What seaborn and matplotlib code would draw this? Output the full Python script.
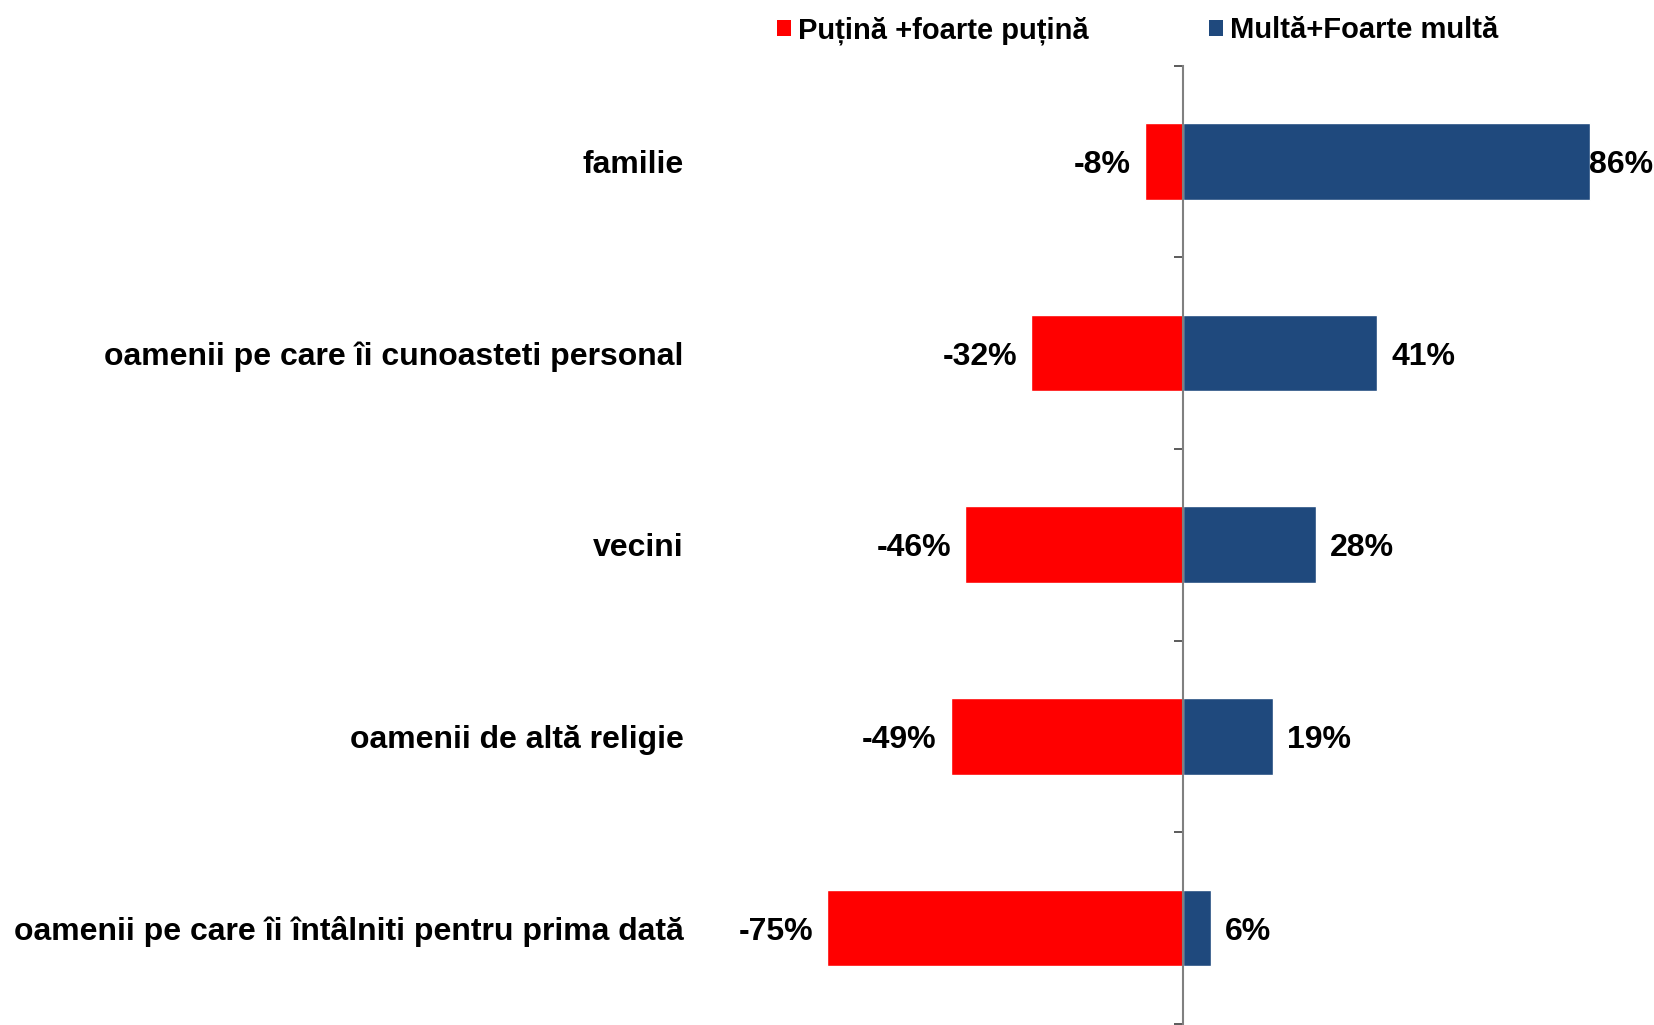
import numpy as np
import pandas as pd
import seaborn as sns
import matplotlib.pyplot as plt
from matplotlib.patches import Patch

# data
categories = ['familie',
              'oamenii pe care îi cunoasteti personal',
              'vecini',
              'oamenii de altă religie',
              'oamenii pe care îi întâlniti pentru prima dată']
putina = [-8, -32, -46, -49, -75]   # Puțină + foarte puțină
multa = [86, 41, 28, 19, 6]         # Multă + Foarte multă
series_names = ['Puțină +foarte puțină', 'Multă+Foarte multă']
colors = ['#FF0000', '#1F497D']

df = pd.DataFrame({'cat': categories, 'neg': putina, 'pos': multa})

sns.set_style('white')
plt.rcParams['font.family'] = ['Liberation Sans', 'DejaVu Sans']
plt.rcParams['font.weight'] = 'bold'
plt.rcParams['text.color'] = 'black'

fig = plt.figure(figsize=(16.54, 10.25), dpi=100)
ax = fig.add_axes([709 / 1654, 0.001, 945 / 1654, 0.935])

sns.barplot(data=df, x='neg', y='cat', color=colors[0], width=0.4,
            orient='h', ax=ax, saturation=1)
sns.barplot(data=df, x='pos', y='cat', color=colors[1], width=0.4,
            orient='h', ax=ax, saturation=1)

ax.set_xlim(-100, 99.4)
ax.set_ylim(len(categories) - 0.5, -0.5)
ax.set_xlabel('')
ax.set_ylabel('')
ax.set_xticks([])

# vertical axis through zero with ticks between the categories
for s in ['top', 'right', 'bottom']:
    ax.spines[s].set_visible(False)
ax.spines['left'].set_position(('data', 0))
ax.spines['left'].set_color('#808080')
ax.spines['left'].set_linewidth(1.5)
ax.spines['left'].set_zorder(5)
ax.set_yticks(np.arange(-0.5, len(categories), 1))
ax.set_yticklabels([])
ax.tick_params(axis='y', direction='out', length=6.5, width=1.2,
               color='#404040', left=True)

# category labels
for i, c in enumerate(categories):
    ax.text(-0.027, i, c, transform=ax.get_yaxis_transform(), ha='right',
            va='center_baseline', fontsize=23, fontweight='bold',
            color='black')

# value labels
for i, (n, p) in enumerate(zip(putina, multa)):
    ax.annotate(f'{n}%', (n, i), xytext=(-10, 0), textcoords='offset points',
                ha='right', va='center_baseline', fontsize=23,
                fontweight='bold', color='black')
    pad = -1 if p > 80 else 10
    ax.annotate(f'{p}%', (p, i), xytext=(pad, 0), textcoords='offset points',
                ha='left', va='center_baseline', fontsize=23,
                fontweight='bold', color='black')

handles = [Patch(facecolor=c, edgecolor='none') for c in colors]
leg = fig.legend(handles, series_names, loc='center left',
                 bbox_to_anchor=(777 / 1654, 1 - 30.5 / 1025), ncol=2,
                 frameon=False, handlelength=0.48, handleheight=0.48,
                 handletextpad=0.25, columnspacing=4.1, borderpad=0,
                 borderaxespad=0, prop={'weight': 'bold', 'size': 21})
for t in leg.get_texts():
    t.set_color('black')

fig.savefig('out.png', dpi=100)
